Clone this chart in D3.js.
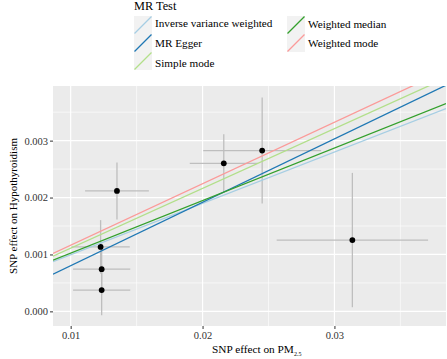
<!DOCTYPE html>
<html>
<head>
<meta charset="utf-8">
<script src="https://cdn.jsdelivr.net/npm/d3@7"></script>
<style>
  html, body { margin: 0; padding: 0; background: #fff; }
  svg { display: block; }
  svg text { font-family: "Liberation Serif", "Times New Roman", serif; }
</style>
</head>
<body>
<svg id="chart" width="447" height="359"></svg>
<script>
// ---- data ----
const snpX   = [0.01351, 0.01227, 0.01235, 0.01235, 0.02161, 0.02452, 0.03136];
const snpY   = [0.002116, 0.001133, 0.000742, 0.000374, 0.002602, 0.002826, 0.001253];
const snpSeX = [0.00242, 0.00221, 0.00217, 0.00217, 0.00258, 0.00447, 0.00574];
const snpSeY = [0.00050, 0.00047, 0.00045, 0.00044, 0.00051, 0.00093, 0.00118];

const methods    = ["Inverse variance weighted", "MR Egger", "Simple mode", "Weighted median", "Weighted mode"];
const slopes     = [0.0902, 0.1114, 0.1050, 0.0923, 0.1080];
const intercepts = [0.000093, -0.000311, 0.000061, 0.000101, 0.000083];
const colors     = ["#a6cee3", "#1f78b4", "#b2df8a", "#33a02c", "#fb9a99"];

const xTicks = [0.01, 0.02, 0.03];
const xMinor = [0.015, 0.025, 0.035];
const yTicks = [0.000, 0.001, 0.002, 0.003];
const yMinor = [0.0005, 0.0015, 0.0025, 0.0035];

const legendTitle = "MR Test";
const yTitle = "SNP effect on Hypothyroidism";
const xTitleMain = "SNP effect on  PM";
const xTitleSub = "2.5";

const FONT = "'Liberation Serif', 'Times New Roman', serif";

// ---- layout ----
const panel = { left: 53, right: 446, top: 86, bottom: 326 };
const svg = d3.select("#chart");

const x = d3.scaleLinear().domain([0.00866, 0.03846]).range([panel.left, panel.right]);
const y = d3.scaleLinear().domain([-0.000257, 0.00396]).range([panel.bottom, panel.top]);

// panel background
svg.append("rect")
  .attr("x", panel.left).attr("y", panel.top)
  .attr("width", panel.right - panel.left).attr("height", panel.bottom - panel.top)
  .attr("fill", "#ebebeb");

svg.append("clipPath").attr("id", "clip")
  .append("rect")
  .attr("x", panel.left).attr("y", panel.top)
  .attr("width", panel.right - panel.left).attr("height", panel.bottom - panel.top);

const grid = svg.append("g");
grid.selectAll(".xm").data(xMinor).join("line")
  .attr("x1", d => x(d)).attr("x2", d => x(d))
  .attr("y1", panel.top).attr("y2", panel.bottom)
  .attr("stroke", "#fff").attr("stroke-width", 0.6);
grid.selectAll(".ym").data(yMinor).join("line")
  .attr("y1", d => y(d)).attr("y2", d => y(d))
  .attr("x1", panel.left).attr("x2", panel.right)
  .attr("stroke", "#fff").attr("stroke-width", 0.6);
grid.selectAll(".xM").data(xTicks).join("line")
  .attr("x1", d => x(d)).attr("x2", d => x(d))
  .attr("y1", panel.top).attr("y2", panel.bottom)
  .attr("stroke", "#fff").attr("stroke-width", 1.2);
grid.selectAll(".yM").data(yTicks).join("line")
  .attr("y1", d => y(d)).attr("y2", d => y(d))
  .attr("x1", panel.left).attr("x2", panel.right)
  .attr("stroke", "#fff").attr("stroke-width", 1.2);

// axes
const xAxis = d3.axisBottom(x).tickValues(xTicks).tickFormat(d3.format(".2f")).tickSize(3).tickPadding(3);
const yAxis = d3.axisLeft(y).tickValues(yTicks).tickFormat(d3.format(".3f")).tickSize(3).tickPadding(2);

const gx = svg.append("g").attr("transform", `translate(0,${panel.bottom})`).call(xAxis);
const gy = svg.append("g").attr("transform", `translate(${panel.left},0)`).call(yAxis);
[gx, gy].forEach(g => {
  g.attr("font-family", FONT);
  g.select(".domain").remove();
  g.selectAll(".tick line").attr("stroke", "#333").attr("stroke-width", 1);
  g.selectAll(".tick text").attr("fill", "#333").attr("font-size", 10.5)
    .attr("font-family", FONT);
});

// error bars
const plot = svg.append("g").attr("clip-path", "url(#clip)");
const idx = d3.range(snpX.length);
plot.selectAll(".eh").data(idx).join("line")
  .attr("x1", i => x(snpX[i] - snpSeX[i])).attr("x2", i => x(snpX[i] + snpSeX[i]))
  .attr("y1", i => y(snpY[i])).attr("y2", i => y(snpY[i]))
  .attr("stroke", "#bebebe").attr("stroke-width", 1.3);
plot.selectAll(".ev").data(idx).join("line")
  .attr("x1", i => x(snpX[i])).attr("x2", i => x(snpX[i]))
  .attr("y1", i => y(snpY[i] - snpSeY[i])).attr("y2", i => y(snpY[i] + snpSeY[i]))
  .attr("stroke", "#bebebe").attr("stroke-width", 1.3);

// points
plot.selectAll(".pt").data(idx).join("circle")
  .attr("cx", i => x(snpX[i])).attr("cy", i => y(snpY[i]))
  .attr("r", 2.9).attr("fill", "#000");

// regression lines
const [x0, x1] = x.domain();
plot.selectAll(".ab").data(d3.range(methods.length)).join("line")
  .attr("x1", x(x0)).attr("x2", x(x1))
  .attr("y1", i => y(intercepts[i] + slopes[i] * x0))
  .attr("y2", i => y(intercepts[i] + slopes[i] * x1))
  .attr("stroke", i => colors[i]).attr("stroke-width", 1.3);

// axis titles
svg.append("text")
  .attr("transform", `translate(17,${(panel.top + panel.bottom) / 2}) rotate(-90)`)
  .attr("text-anchor", "middle").attr("fill", "#000")
  .attr("font-family", FONT).attr("font-size", 11).text(yTitle);

const xt = svg.append("text").attr("x", 212).attr("y", 353).attr("fill", "#000")
  .attr("font-family", FONT).attr("font-size", 11.3);
xt.append("tspan").text(xTitleMain);
xt.append("tspan").attr("dy", 2.5).attr("font-size", 6).text(xTitleSub);

// legend
const leg = svg.append("g").attr("font-family", FONT);
leg.append("text").attr("x", 134).attr("y", 10).attr("fill", "#000")
  .attr("font-family", FONT).attr("font-size", 12.3).text(legendTitle);

const legPos = [
  { kx: 134, ky: 16, ty: 26.5 },
  { kx: 134, ky: 34, ty: 46.5 },
  { kx: 134, ky: 52, ty: 66.5 },
  { kx: 287, ky: 16, ty: 27.5 },
  { kx: 287, ky: 34, ty: 47 }
];
const items = leg.selectAll(".li").data(d3.range(methods.length)).join("g");
items.append("rect")
  .attr("x", i => legPos[i].kx).attr("y", i => legPos[i].ky)
  .attr("width", 18).attr("height", 18).attr("fill", "#f2f2f2");
items.append("line")
  .attr("x1", i => legPos[i].kx + 0.5).attr("y1", i => legPos[i].ky + 17.5)
  .attr("x2", i => legPos[i].kx + 17.5).attr("y2", i => legPos[i].ky + 0.5)
  .attr("stroke", i => colors[i]).attr("stroke-width", 1.3);
items.append("text")
  .attr("x", i => legPos[i].kx + 21).attr("y", i => legPos[i].ty)
  .attr("fill", "#000").attr("font-family", FONT).attr("font-size", 11.2)
  .text(i => methods[i]);
</script>
</body>
</html>
